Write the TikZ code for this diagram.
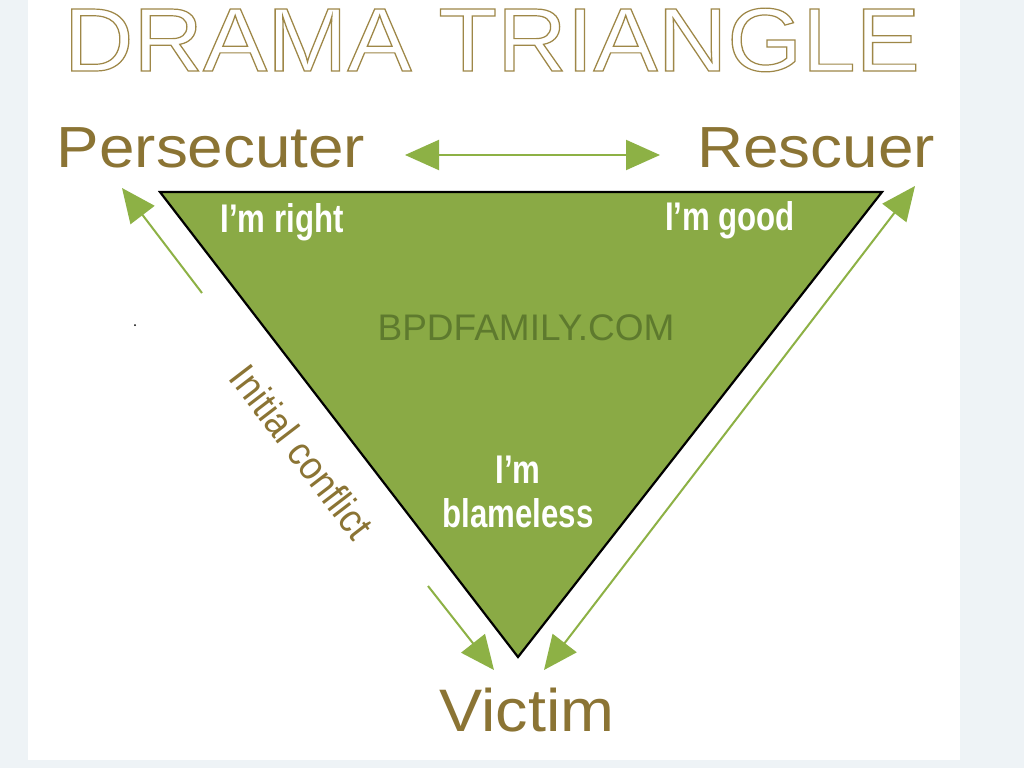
\documentclass[tikz,border=0pt]{standalone}
\usepackage{fontspec}
\setmainfont{Liberation Sans}
\usetikzlibrary{arrows.meta}
\definecolor{bg}{HTML}{EEF3F6}
\definecolor{tri}{HTML}{8AAA45}
\definecolor{arr}{HTML}{8DB145}
\definecolor{brn}{HTML}{8B7434}
\definecolor{wm}{HTML}{5E7A2E}
\begin{document}
\begin{tikzpicture}[x=1pt,y=-1pt,
  role/.style={text=brn,font=\fontsize{58}{58}\selectfont,inner sep=0,xscale=1.1},
  inner/.style={text=white,font=\fontsize{40}{44}\selectfont\bfseries,inner sep=0,xscale=0.78,align=center},
  garrow/.style={draw=arr,line width=2pt,-{Triangle[length=34pt,width=30pt]}},
  darrow/.style={draw=arr,line width=2pt,{Triangle[length=34pt,width=30pt]}-{Triangle[length=34pt,width=30pt]}}]
\useasboundingbox (0,0) rectangle (1024,768);
\fill[bg] (0,0) rectangle (1024,768);
\fill[white] (28,0) rectangle (960,760);
\node[inner sep=0,text=white,font=\fontsize{90}{90}\selectfont,xscale=1.07] (title) at (492,40)
  {\special{pdf:code 1 Tr 1.2 w 0.62 0.53 0.28 RG}DRAMA TRIANGLE\special{pdf:code 0 Tr}};
\coordinate (P) at (160,192);
\coordinate (R) at (882,192);
\coordinate (V) at (518,657);
\fill[tri] (P) -- (R) -- (V) -- cycle;
\draw[line width=2.2pt,line join=miter] (P) -- (R) -- (V) -- cycle;
\node[role] (pers) at (211,148) {Persecuter};
\node[role] (resc) at (816,148) {Rescuer};
\node[role,font=\fontsize{60}{60}\selectfont,xscale=0.98] (vict) at (527,710) {Victim};
\coordinate (t1) at (405,155); \coordinate (t2) at (660,155);
\draw[darrow] (t1) -- (t2);
\coordinate (l1) at (202,293); \coordinate (l2) at (122,188);
\draw[garrow] (l1) -- (l2);
\coordinate (b1) at (428,586); \coordinate (b2) at (494,670);
\draw[garrow] (b1) -- (b2);
\coordinate (r1) at (544,670); \coordinate (r2) at (915,186);
\draw[darrow] (r1) -- (r2);
\node[inner] (right) at (282,222) {I'm right};
\node[inner] (good) at (730,220) {I'm good};
\node[inner] (blame) at (518,492) {I'm\\blameless};
\node[inner sep=0,text=wm,font=\fontsize{37}{37}\selectfont] (wmk) at (526,328) {BPDFAMILY.COM};
\node[inner sep=0,text=brn,font=\fontsize{40}{40}\selectfont,rotate=-52.5,xscale=0.9] (ic) at (302,452) {Initial conflict};
\fill[black] (135,325) circle (1pt);
\end{tikzpicture}
\end{document}
